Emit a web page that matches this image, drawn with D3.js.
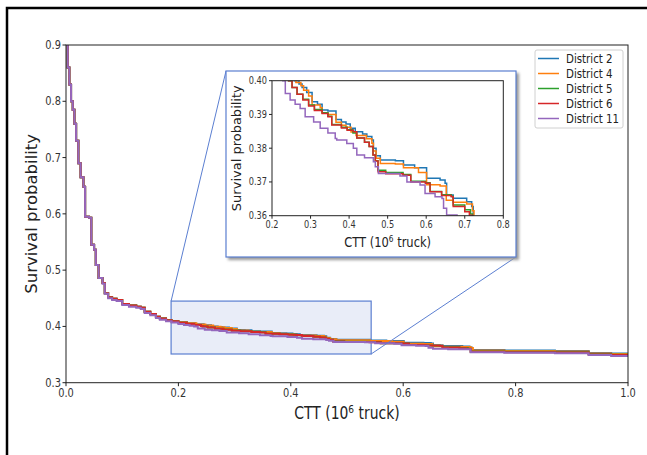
<!DOCTYPE html>
<html>
<head>
<meta charset="utf-8">
<title>Survival probability by district</title>
<script src="https://cdn.jsdelivr.net/npm/d3@7"></script>
<style>
body { margin: 0; background: #fff; }
text { font-family: "DejaVu Sans", sans-serif; fill: #222; }
path.curve { fill: none; stroke-width: 1.5px; }
path.curve.main { stroke-width: 2px; }
</style>
</head>
<body>
<script>
// ---- data ----
var districts = ["District 2", "District 4", "District 5", "District 6", "District 11"];
var colors = ["#1f77b4", "#ff7f0e", "#2ca02c", "#d62728", "#9467bd"];

// steep early part, shared by the districts (they overlap there)
var earlyCtt  = [0, 0.003, 0.006, 0.009, 0.012, 0.015, 0.018, 0.022, 0.026, 0.031, 0.034, 0.041, 0.045, 0.050, 0.053, 0.058, 0.065, 0.069, 0.075, 0.082, 0.090, 0.100, 0.112, 0.125, 0.133, 0.140, 0.150, 0.160, 0.167, 0.178, 0.188];
var earlyProb = [0.9, 0.86, 0.83, 0.80, 0.785, 0.76, 0.73, 0.69, 0.665, 0.648, 0.595, 0.593, 0.545, 0.536, 0.509, 0.486, 0.477, 0.459, 0.452, 0.449, 0.447, 0.440, 0.437, 0.435, 0.433, 0.426, 0.422, 0.417, 0.414, 0.411, 0.409];
var earlyProbD11 = [0.9, 0.86, 0.83, 0.80, 0.785, 0.76, 0.73, 0.69, 0.665, 0.648, 0.595, 0.593, 0.545, 0.536, 0.509, 0.486, 0.476, 0.458, 0.450, 0.447, 0.445, 0.438, 0.435, 0.433, 0.431, 0.424, 0.420, 0.415, 0.412, 0.409, 0.407];

var cttD2  = [0.200, 0.215, 0.230, 0.245, 0.258, 0.270, 0.278, 0.290, 0.304, 0.318, 0.330, 0.345, 0.366, 0.380, 0.392, 0.403, 0.416, 0.435, 0.446, 0.459, 0.463, 0.470, 0.481, 0.520, 0.541, 0.570, 0.601, 0.636, 0.649, 0.653, 0.670, 0.705, 0.718, 0.722, 0.780, 0.870, 0.930, 0.970, 1.0];
var probD2 = [0.408, 0.406, 0.404, 0.402, 0.400, 0.399, 0.398, 0.3965, 0.3938, 0.3930, 0.3913, 0.3910, 0.3885, 0.3878, 0.3872, 0.3859, 0.3849, 0.3842, 0.3835, 0.3824, 0.3800, 0.3778, 0.3765, 0.3763, 0.3750, 0.3742, 0.3711, 0.3706, 0.3696, 0.3661, 0.3652, 0.3641, 0.3627, 0.3580, 0.3572, 0.3565, 0.3528, 0.3520, 0.3520];

var cttD4  = [0.200, 0.215, 0.232, 0.248, 0.262, 0.275, 0.282, 0.295, 0.304, 0.325, 0.330, 0.345, 0.366, 0.380, 0.392, 0.405, 0.418, 0.445, 0.459, 0.463, 0.470, 0.481, 0.520, 0.541, 0.580, 0.601, 0.636, 0.652, 0.670, 0.705, 0.720, 0.724, 0.780, 0.870, 0.930, 0.970, 1.0];
var probD4 = [0.4075, 0.4055, 0.4035, 0.4015, 0.3995, 0.3985, 0.3972, 0.3955, 0.3928, 0.3920, 0.3905, 0.3900, 0.3877, 0.3868, 0.3862, 0.3848, 0.3838, 0.3828, 0.3815, 0.3792, 0.3770, 0.3755, 0.3753, 0.3742, 0.3728, 0.3692, 0.3688, 0.3646, 0.3640, 0.3635, 0.3615, 0.3570, 0.3563, 0.3555, 0.3520, 0.3512, 0.3512];

var cttD5  = [0.200, 0.215, 0.228, 0.240, 0.243, 0.252, 0.265, 0.280, 0.295, 0.310, 0.330, 0.345, 0.355, 0.380, 0.395, 0.410, 0.420, 0.440, 0.452, 0.462, 0.468, 0.475, 0.495, 0.540, 0.560, 0.598, 0.610, 0.640, 0.665, 0.670, 0.700, 0.715, 0.720, 0.780, 0.870, 0.930, 0.970, 1.0];
var probD5 = [0.4065, 0.4045, 0.4025, 0.4008, 0.4000, 0.3980, 0.3960, 0.3945, 0.3928, 0.3915, 0.3905, 0.3895, 0.3870, 0.3862, 0.3855, 0.3845, 0.3830, 0.3818, 0.3805, 0.3780, 0.3763, 0.3735, 0.3728, 0.3722, 0.3702, 0.3698, 0.3672, 0.3662, 0.3658, 0.3632, 0.3618, 0.3605, 0.3555, 0.3548, 0.3540, 0.3505, 0.3495, 0.3495];

var cttD6  = [0.200, 0.215, 0.228, 0.240, 0.243, 0.252, 0.265, 0.280, 0.295, 0.310, 0.330, 0.345, 0.355, 0.380, 0.395, 0.411, 0.420, 0.440, 0.452, 0.462, 0.468, 0.475, 0.495, 0.540, 0.560, 0.598, 0.610, 0.640, 0.665, 0.670, 0.700, 0.712, 0.720, 0.780, 0.870, 0.930, 0.970, 1.0];
var probD6 = [0.4065, 0.4045, 0.4025, 0.4008, 0.4000, 0.3980, 0.3960, 0.3943, 0.3925, 0.3912, 0.3903, 0.3893, 0.3869, 0.3860, 0.3853, 0.3849, 0.3830, 0.3818, 0.3805, 0.3780, 0.3762, 0.3730, 0.3724, 0.3720, 0.3700, 0.3696, 0.3671, 0.3660, 0.3656, 0.3627, 0.3612, 0.3601, 0.3550, 0.3542, 0.3535, 0.3500, 0.3490, 0.3490];

var cttD11  = [0.200, 0.210, 0.220, 0.228, 0.2345, 0.247, 0.260, 0.273, 0.286, 0.308, 0.325, 0.345, 0.364, 0.368, 0.394, 0.411, 0.420, 0.440, 0.463, 0.468, 0.476, 0.532, 0.550, 0.584, 0.597, 0.623, 0.641, 0.645, 0.653, 0.680, 0.720, 0.780, 0.870, 0.930, 0.970, 1.0];
var probD11 = [0.4045, 0.4025, 0.4010, 0.4000, 0.3962, 0.3943, 0.3930, 0.3918, 0.3893, 0.3878, 0.3859, 0.3845, 0.3829, 0.3824, 0.3814, 0.3800, 0.3780, 0.3772, 0.3760, 0.3745, 0.3725, 0.3718, 0.3700, 0.3691, 0.3666, 0.3656, 0.3651, 0.3622, 0.3602, 0.3595, 0.3540, 0.3533, 0.3525, 0.3490, 0.3475, 0.3475];

var xTicks = [0.0, 0.2, 0.4, 0.6, 0.8, 1.0];
var yTicks = [0.3, 0.4, 0.5, 0.6, 0.7, 0.8, 0.9];
var insetXTicks = [0.2, 0.3, 0.4, 0.5, 0.6, 0.7, 0.8];
var insetYTicks = [0.36, 0.37, 0.38, 0.39, 0.40];
var zoomBox = {x0: 0.187, x1: 0.543, y0: 0.351, y1: 0.445};

function zipPts(xs, ys) { return xs.map(function(x, i) { return [x, ys[i]]; }); }
var series = [
  zipPts(earlyCtt.concat(cttD2), earlyProb.concat(probD2)),
  zipPts(earlyCtt.concat(cttD4), earlyProb.concat(probD4)),
  zipPts(earlyCtt.concat(cttD5), earlyProb.concat(probD5)),
  zipPts(earlyCtt.concat(cttD6), earlyProb.concat(probD6)),
  zipPts(earlyCtt.concat(cttD11), earlyProbD11.concat(probD11))
];

// ---- layout ----
var W = 647, H = 455;
var SX = 0.82; // the picture is squeezed horizontally, so is its text
var svg = d3.select("body").append("svg").attr("width", W).attr("height", H);

var defs = svg.append("defs");
defs.append("filter").attr("id", "blur").append("feGaussianBlur").attr("stdDeviation", 1.5);

// outer frame (only left and top edges are visible)
svg.append("path").attr("d", "M7,455V8H647").attr("fill", "none").attr("stroke", "#000").attr("stroke-width", 2.5);

var m = {left: 66, right: 628, top: 45, bottom: 382.7};
var x = d3.scaleLinear().domain([0, 1]).range([m.left, m.right]);
var y = d3.scaleLinear().domain([0.3, 0.9]).range([m.bottom, m.top]);

function hText(g, tx, ty, str, size, anchor) {
  return g.append("text")
    .attr("transform", "translate(" + tx + "," + ty + ") scale(" + SX + ",1)")
    .attr("text-anchor", anchor || "middle")
    .style("font-size", size + "px")
    .text(str);
}

defs.append("clipPath").attr("id", "clipMain").append("rect")
  .attr("x", m.left).attr("y", m.top).attr("width", m.right - m.left).attr("height", m.bottom - m.top);

// zoom box behind the curves
svg.append("rect")
  .attr("x", x(zoomBox.x0)).attr("y", y(zoomBox.y1))
  .attr("width", x(zoomBox.x1) - x(zoomBox.x0)).attr("height", y(zoomBox.y0) - y(zoomBox.y1))
  .attr("fill", "#e9edf8").attr("stroke", "#5b7fd1").attr("stroke-width", 1.2);

var line = d3.line().curve(d3.curveStepAfter)
  .x(function(d) { return x(d[0]); })
  .y(function(d) { return y(d[1]); });

svg.append("g").attr("clip-path", "url(#clipMain)")
  .selectAll("path").data(series).enter().append("path")
  .attr("class", "curve main")
  .attr("stroke", function(d, i) { return colors[i]; })
  .attr("d", line);

// frame of the main axes
svg.append("rect").attr("x", m.left).attr("y", m.top)
  .attr("width", m.right - m.left).attr("height", m.bottom - m.top)
  .attr("fill", "none").attr("stroke", "#222").attr("stroke-width", 1);

// ticks
var axMain = svg.append("g");
xTicks.forEach(function(t) {
  axMain.append("line").attr("x1", x(t)).attr("x2", x(t)).attr("y1", m.bottom).attr("y2", m.bottom + 3.5).attr("stroke", "#222");
  hText(axMain, x(t), m.bottom + 14, d3.format(".1f")(t), 12).style("fill", "#333");
});
yTicks.forEach(function(t) {
  axMain.append("line").attr("x1", m.left - 3.5).attr("x2", m.left).attr("y1", y(t)).attr("y2", y(t)).attr("stroke", "#222");
  hText(axMain, m.left - 5, y(t) + 4, d3.format(".1f")(t), 12, "end").style("fill", "#333");
});

// axis titles
var xl = hText(svg, (m.left + m.right) / 2, 419, "", 17);
xl.append("tspan").text("CTT (10");
xl.append("tspan").attr("dy", -6).style("font-size", "11px").text("6");
xl.append("tspan").attr("dy", 6).text(" truck)");
svg.append("text")
  .attr("transform", "translate(37," + ((m.top + m.bottom) / 2) + ") rotate(-90)")
  .attr("text-anchor", "middle").style("font-size", "16.5px")
  .text("Survival probability");

// legend
var lg = svg.append("g").attr("transform", "translate(535,50)");
lg.append("rect").attr("width", 88).attr("height", 78).attr("rx", 2)
  .attr("fill", "#fff").attr("stroke", "#d0d0d0");
districts.forEach(function(name, i) {
  var yy = 8.5 + i * 15;
  lg.append("line").attr("x1", 3).attr("x2", 24).attr("y1", yy).attr("y2", yy)
    .attr("stroke", colors[i]).attr("stroke-width", 1.5);
  hText(lg, 31, yy + 4, name, 12.5, "start");
});

// ---- inset ----
var box = {left: 226, top: 71, right: 516, bottom: 257};
// connector lines
svg.append("line").attr("x1", x(zoomBox.x0)).attr("y1", y(zoomBox.y1)).attr("x2", box.left).attr("y2", box.top)
  .attr("stroke", "#5b7fd1").attr("stroke-width", 1);
svg.append("line").attr("x1", x(zoomBox.x1)).attr("y1", y(zoomBox.y0)).attr("x2", box.right).attr("y2", box.bottom)
  .attr("stroke", "#5b7fd1").attr("stroke-width", 1);

svg.append("rect").attr("x", box.left + 2).attr("y", box.top + 2)
  .attr("width", box.right - box.left + 1).attr("height", box.bottom - box.top + 1)
  .attr("fill", "#999").attr("filter", "url(#blur)");
svg.append("rect").attr("x", box.left).attr("y", box.top)
  .attr("width", box.right - box.left).attr("height", box.bottom - box.top)
  .attr("fill", "#fff").attr("stroke", "#5b7fd1").attr("stroke-width", 1.2);

var im = {left: 272, right: 503.3, top: 80.7, bottom: 215.7};
var xi = d3.scaleLinear().domain([0.2, 0.8]).range([im.left, im.right]);
var yi = d3.scaleLinear().domain([0.36, 0.40]).range([im.bottom, im.top]);

defs.append("clipPath").attr("id", "clipInset").append("rect")
  .attr("x", im.left).attr("y", im.top).attr("width", im.right - im.left).attr("height", im.bottom - im.top);

var lineI = d3.line().curve(d3.curveStepAfter)
  .x(function(d) { return xi(d[0]); })
  .y(function(d) { return yi(d[1]); });

svg.append("g").attr("clip-path", "url(#clipInset)")
  .selectAll("path").data(series).enter().append("path")
  .attr("class", "curve")
  .attr("stroke", function(d, i) { return colors[i]; })
  .attr("d", lineI);

svg.append("rect").attr("x", im.left).attr("y", im.top)
  .attr("width", im.right - im.left).attr("height", im.bottom - im.top)
  .attr("fill", "none").attr("stroke", "#222").attr("stroke-width", 1);

insetXTicks.forEach(function(t) {
  svg.append("line").attr("x1", xi(t)).attr("x2", xi(t)).attr("y1", im.bottom).attr("y2", im.bottom + 3).attr("stroke", "#222");
  hText(svg, xi(t), im.bottom + 12.5, d3.format(".1f")(t), 10).style("fill", "#333");
});
insetYTicks.forEach(function(t) {
  svg.append("line").attr("x1", im.left - 3).attr("x2", im.left).attr("y1", yi(t)).attr("y2", yi(t)).attr("stroke", "#222");
  hText(svg, im.left - 5, yi(t) + 3.5, d3.format(".2f")(t), 10, "end").style("fill", "#333");
});

var xli = hText(svg, (im.left + im.right) / 2, 247, "", 14);
xli.append("tspan").text("CTT (10");
xli.append("tspan").attr("dy", -5).style("font-size", "9px").text("6");
xli.append("tspan").attr("dy", 5).text(" truck)");
svg.append("text")
  .attr("transform", "translate(241," + ((im.top + im.bottom) / 2) + ") rotate(-90)")
  .attr("text-anchor", "middle").style("font-size", "13px")
  .text("Survival probability");
</script>
</body>
</html>
